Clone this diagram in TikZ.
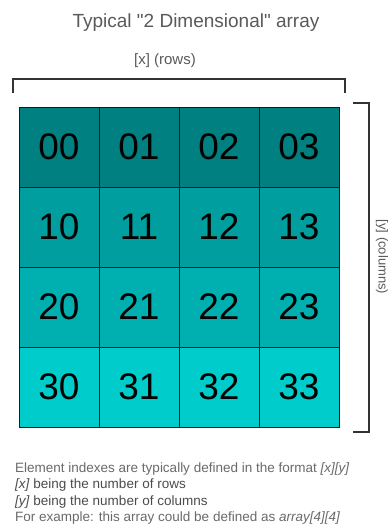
\documentclass[tikz,border=0pt]{standalone}
\usepackage{fontspec}
\setmainfont{Liberation Sans}
\definecolor{rowA}{HTML}{008080}
\definecolor{rowB}{HTML}{009E9E}
\definecolor{rowC}{HTML}{00AFAF}
\definecolor{rowD}{HTML}{00CCCC}
\definecolor{txtgrey}{HTML}{5A5A5A}
\definecolor{notegrey}{HTML}{6A6A6A}
\tikzset{
  cell/.style={draw=black!90, line width=0.9pt, minimum width=80pt, minimum height=80pt, inner sep=0pt, outer sep=0pt, font=\fontsize{37}{42}\selectfont, text=black},
  bracket/.style={draw=black!80, line width=1.2pt},
  lbl/.style={text=txtgrey, inner sep=0pt},
  note/.style={text=notegrey, inner sep=0pt, anchor=base west, font=\fontsize{13.5}{16}\selectfont}
}
\begin{document}
\begin{tikzpicture}[x=1pt,y=-1pt]
\useasboundingbox (0,0) rectangle (390,527);
\fill[white] (0,0) rectangle (390,527);
% title
\node[lbl, font=\fontsize{19}{22}\selectfont] (title) at (196,23) {Typical \textquotedbl 2 Dimensional\textquotedbl{} array};
% grid
\foreach \r/\col in {0/rowA,1/rowB,2/rowC,3/rowD}{
  \foreach \c in {0,1,2,3}{
    \node[cell, fill=\col] (c\r\c) at ({59+80*\c},{147+80*\r}) {\r\c};
  }
}
% top bracket
\coordinate (tl) at (13,93);
\coordinate (tr) at (345,93);
\draw[bracket] (tl) -- (13,79) -- (345,79) -- (tr);
\node[lbl, font=\fontsize{15}{18}\selectfont] (xlabel) at (165,61) {[x] (rows)};
% right bracket
\coordinate (rt) at (353,103);
\coordinate (rb) at (353,432);
\draw[bracket] (rt) -- (369,103) -- (369,432) -- (rb);
\node[lbl, rotate=-90, font=\fontsize{13}{16}\selectfont] (ylabel) at (382,257) {[y] (columns)};
% notes
\node[note] (n1) at (15,472) {Element indexes are typically defined in the format \textit{[x][y]}};
\node[note, text=black!70] (n2) at (15,488) {\textit{[x]} being the number of rows};
\node[note, text=black!70] (n3) at (15,505) {\textit{[y]} being the number of columns};
\node[note] (n4) at (15,521) {For example: this array could be defined as \textit{array[4][4]}};
\end{tikzpicture}
\end{document}
